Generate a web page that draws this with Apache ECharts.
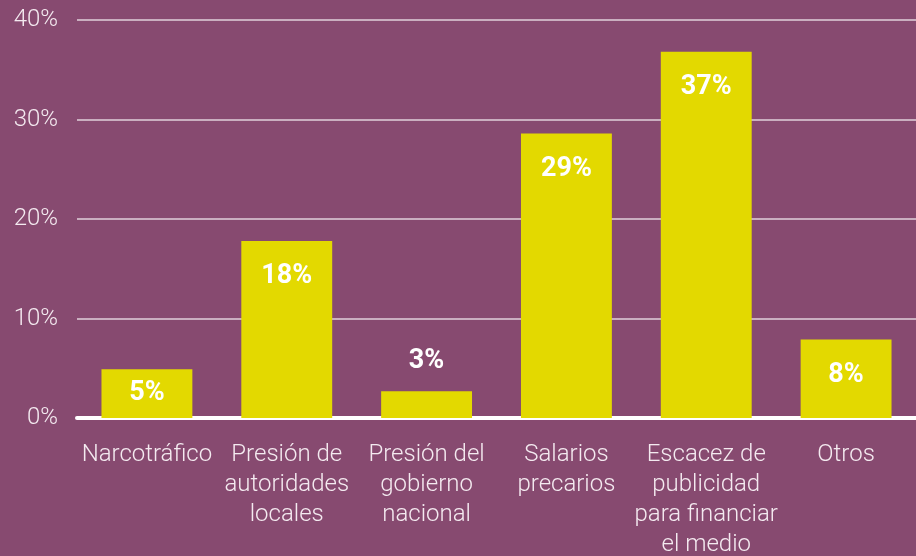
<!DOCTYPE html>
<html>
<head>
<meta charset="utf-8">
<script src="https://cdn.jsdelivr.net/npm/echarts@6/dist/echarts.min.js"></script>
<style>
html, body { margin: 0; padding: 0; background: #874a70; }
#chart { width: 916px; height: 556px; }
</style>
</head>
<body>
<div id="chart"></div>
<script>
// categorias (con saltos de linea como en el original)
var categories = [
  'Narcotráfico',
  'Presión de\nautoridades\nlocales',
  'Presión del\ngobierno\nnacional',
  'Salarios\nprecarios',
  'Escacez de\npublicidad\npara financiar\nel medio',
  'Otros'
];
var values = [4.9, 17.8, 2.7, 28.6, 36.8, 7.9];
var yTicks = [0, 10, 20, 30, 40];

var chart = echarts.init(document.getElementById('chart'));

var data = values.map(function (v) {
  var lbl;
  if (v < 4) {
    lbl = { position: 'top', distance: 16 };
  } else if (v < 6) {
    lbl = { position: 'inside' };
  } else {
    lbl = { position: 'insideTop', distance: 22 };
  }
  return { value: v, label: lbl };
});

var option = {
  backgroundColor: '#874a70',
  animation: false,
  grid: { left: 77, right: 0, top: 20, bottom: 138, containLabel: false, outerBoundsMode: 'none' },
  xAxis: {
    type: 'category',
    data: categories,
    axisLine: { lineStyle: { color: '#ffffff', width: 4 } },
    axisTick: { show: false },
    axisLabel: {
      color: '#f4eaf0',
      fontFamily: 'Roboto',
      fontWeight: 300,
      fontSize: 24,
      lineHeight: 30,
      margin: 22,
      interval: 0
    }
  },
  yAxis: {
    type: 'value',
    min: yTicks[0],
    max: yTicks[yTicks.length - 1],
    interval: 10,
    axisLine: { show: false },
    axisTick: { show: false },
    axisLabel: {
      formatter: '{value}%',
      color: '#f4eaf0',
      fontFamily: 'Roboto',
      fontWeight: 300,
      fontSize: 24,
      margin: 19
    },
    splitLine: { lineStyle: { color: 'rgba(255,255,255,0.75)', width: 1.5 } }
  },
  series: [{
    type: 'bar',
    data: data,
    barWidth: '65%',
    itemStyle: { color: '#e3d900' },
    label: {
      show: true,
      color: '#ffffff',
      fontFamily: 'Roboto',
      fontWeight: 'bold',
      fontSize: 27,
      formatter: function (p) { return Math.round(p.value) + '%'; }
    }
  }]
};

chart.setOption(option);
</script>
</body>
</html>
